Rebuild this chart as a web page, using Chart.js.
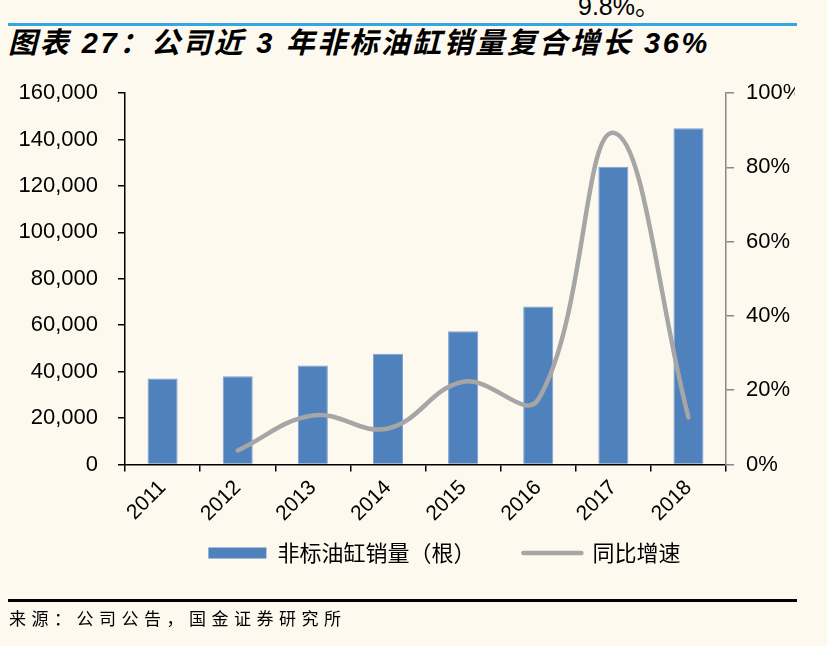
<!DOCTYPE html>
<html>
<head>
<meta charset="utf-8">
<script src="https://cdn.jsdelivr.net/npm/chart.js@4.4.0/dist/chart.umd.min.js"></script>
<style>
  html, body { margin: 0; padding: 0; background: #FDF9EF; }
  body { width: 827px; height: 646px; position: relative; overflow: hidden;
         font-family: "Liberation Sans", "Noto Sans CJK SC", sans-serif; color: #000; }
  .prev { position: absolute; left: 578px; top: -6px; font-size: 25px; line-height: 24px; }
  .topline { position: absolute; left: 8px; width: 789px; top: 23px; height: 3px; background: #36A6E2; }
  .title { position: absolute; left: 8px; top: 29px; font-size: 29px; line-height: 29px;
           font-weight: bold; font-style: italic; letter-spacing: 2.6px; white-space: nowrap; }
  .chart-box { position: absolute; left: 0; top: 0; width: 795px; height: 646px; overflow: hidden; }
  .chart-inner { position: absolute; left: -20px; top: 0; width: 847px; height: 646px; }
  .bottomline { position: absolute; left: 8px; width: 789px; top: 599px; height: 3px; background: #000; }
  .source { position: absolute; left: 9px; top: 607px; font-size: 17px; line-height: 22px;
            letter-spacing: 5.5px; font-family: "Noto Sans CJK SC", sans-serif; white-space: nowrap; }
</style>
</head>
<body>
<div class="prev">9.8%。</div>
<div class="topline"></div>
<div class="title">图表 27：公司近 3 年非标油缸销量复合增长 36%</div>
<div class="chart-box"><div class="chart-inner"><canvas id="chart"></canvas></div></div>
<div class="bottomline"></div>
<div class="source">来源：公司公告，国金证券研究所</div>

<script>
// data
const years = ['2011', '2012', '2013', '2014', '2015', '2016', '2017', '2018'];
const sales = [37100, 38000, 42700, 47700, 57400, 68100, 128200, 144800]; // 非标油缸销量（根）
const growth = [null, 3.8, 13.2, 9.7, 22.3, 17.5, 89.3, 12.7];           // 同比增速 (%)
const salesTicks = { min: 0, max: 160000, step: 20000 };
const growthTicks = { min: 0, max: 100, step: 20 };

const barColor = '#4F81BD';
const lineColor = '#A6A6A6';
const tickFont = { family: 'Liberation Sans', size: 22 };

// move the legend row to where the reference has it
const legendPlace = {
  id: 'legendPlace',
  afterLayout(chart) {
    const lg = chart.legend;
    lg.top = 494;
    lg.left += 38;
    lg.right += 38;
  }
};

new Chart(document.getElementById('chart').getContext('2d'), {
  type: 'bar',
  data: {
    labels: years,
    datasets: [
      {
        type: 'bar',
        label: '非标油缸销量（根）',
        data: sales,
        backgroundColor: barColor,
        borderColor: '#7EA3D3',
        borderWidth: 1,
        barPercentage: 0.4,
        categoryPercentage: 1,
        yAxisID: 'y',
        order: 1
      },
      {
        type: 'line',
        label: '同比增速',
        data: growth,
        borderColor: lineColor,
        borderWidth: 4.5,
        borderCapStyle: 'round',
        tension: 0.4,
        pointRadius: 0,
        fill: false,
        yAxisID: 'y1',
        order: 0
      }
    ]
  },
  options: {
    responsive: true,
    maintainAspectRatio: false,
    animation: false,
    layout: { padding: { top: 93, left: 18.5, right: 12.7, bottom: 35.6 } },
    plugins: {
      tooltip: { enabled: false },
      legend: {
        position: 'bottom',
        labels: {
          usePointStyle: true,
          pointStyleWidth: 58,
          boxHeight: 11,
          padding: 48,
          color: '#000',
          font: { family: 'Noto Sans CJK SC', size: 22 },
          generateLabels: (chart) => chart.data.datasets.map((ds, i) => ({
            text: ds.label,
            datasetIndex: i,
            fillStyle: ds.type === 'bar' ? ds.backgroundColor : 'transparent',
            strokeStyle: ds.type === 'bar' ? ds.backgroundColor : ds.borderColor,
            lineWidth: ds.type === 'bar' ? 0 : ds.borderWidth,
            lineCap: 'round',
            pointStyle: ds.type === 'bar' ? 'rect' : 'line',
            fontColor: '#000',
            hidden: false
          }))
        }
      }
    },
    scales: {
      x: {
        grid: { drawOnChartArea: false, offset: true, color: '#000', lineWidth: 1.5, tickLength: 7 },
        border: { color: '#000', width: 1.5 },
        ticks: { color: '#000', font: { family: 'Liberation Sans', size: 21 }, minRotation: 45, maxRotation: 45, padding: 4 }
      },
      y: {
        position: 'left',
        min: salesTicks.min,
        max: salesTicks.max,
        grid: { drawOnChartArea: false, color: '#000', lineWidth: 1.5, tickLength: 7 },
        border: { color: '#000', width: 1.5 },
        ticks: {
          stepSize: salesTicks.step,
          color: '#000',
          font: tickFont,
          padding: 20,
          callback: (v) => v.toLocaleString('en-US')
        }
      },
      y1: {
        position: 'right',
        min: growthTicks.min,
        max: growthTicks.max,
        grid: { drawOnChartArea: false, color: '#888888', lineWidth: 1.5, tickLength: 8 },
        border: { color: '#888888', width: 1.5 },
        ticks: {
          stepSize: growthTicks.step,
          color: '#000',
          font: tickFont,
          padding: 12,
          callback: (v) => v + '%'
        }
      }
    }
  },
  plugins: [legendPlace]
});
</script>
</body>
</html>
